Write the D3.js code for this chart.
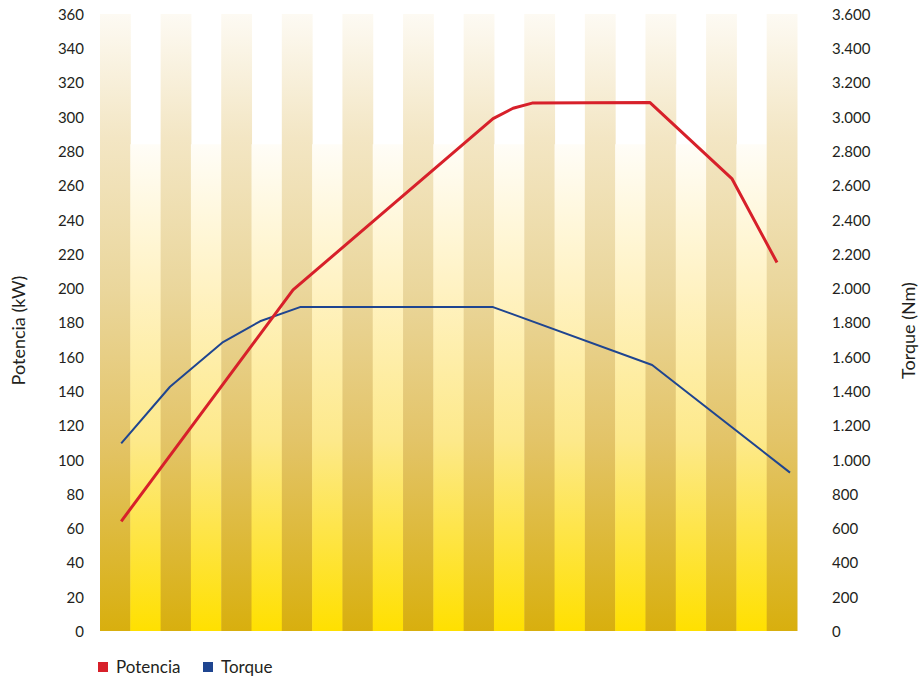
<!DOCTYPE html>
<html>
<head>
<meta charset="utf-8">
<script src="https://cdn.jsdelivr.net/npm/d3@7"></script>
<style>
  body { margin: 0; background: #fff; }
  text { font-family: "Lato", "Open Sans", sans-serif; fill: #231f20; }
</style>
</head>
<body>
<div id="chart"></div>
<script>
// rpm where the readings were taken
const potenciaRpm = [670, 1237, 1897, 1963, 2026, 2415, 2685, 2834];
const potenciaKw = [64, 199, 299, 305, 308, 308.3, 264, 215];
const torqueRpm = [670, 831, 1006, 1128, 1260, 1897, 2422, 2877];
const torqueNm = [1095, 1425, 1686, 1807, 1890, 1890, 1552, 924];
const leftTicks = d3.range(0, 361, 20);
const rightTicks = d3.range(0, 3601, 200);
const stripeCount = 23;
const lightStripeTop = 284; // kW level where the pale stripes stop
const legendItems = [
    {name: "Potencia", color: "#d7202a"},
    {name: "Torque", color: "#1f4590"}
];

const width = 922, height = 680;
const margin = {top: 14, right: 125, bottom: 49, left: 100};

const svg = d3.select("#chart").append("svg")
    .attr("width", width)
    .attr("height", height);

const x = d3.scaleLinear().domain([600, 2900]).range([margin.left, width - margin.right]);
const yKw = d3.scaleLinear().domain([0, 360]).range([height - margin.bottom, margin.top]);
const yNm = d3.scaleLinear().domain([0, 3600]).range([height - margin.bottom, margin.top]);
const band = d3.scaleBand().domain(d3.range(stripeCount)).range([margin.left, width - margin.right]);

const defs = svg.append("defs");
const darkGrad = defs.append("linearGradient")
    .attr("id", "darkGrad")
    .attr("gradientUnits", "userSpaceOnUse")
    .attr("x1", 0).attr("x2", 0)
    .attr("y1", yKw(360)).attr("y2", yKw(0));
[[0, "#fdfaf3"], [0.2, "#f3e6c4"], [0.45, "#ead69b"], [0.69, "#e3c468"], [1, "#d8af0e"]]
    .forEach(s => darkGrad.append("stop").attr("offset", s[0]).attr("stop-color", s[1]));

const lightGrad = defs.append("linearGradient")
    .attr("id", "lightGrad")
    .attr("gradientUnits", "userSpaceOnUse")
    .attr("x1", 0).attr("x2", 0)
    .attr("y1", yKw(lightStripeTop)).attr("y2", yKw(0));
[[0, "#fffdf7"], [0.3, "#fff2c2"], [0.61, "#fde98a"], [1, "#ffe000"]]
    .forEach(s => lightGrad.append("stop").attr("offset", s[0]).attr("stop-color", s[1]));

// background stripes
svg.append("g").selectAll("rect")
    .data(d3.range(stripeCount))
    .enter()
    .append("rect")
    .attr("x", d => band(d))
    .attr("width", band.bandwidth() + 0.5)
    .attr("y", d => d % 2 === 0 ? yKw(360) : yKw(lightStripeTop))
    .attr("height", d => d % 2 === 0 ? yKw(0) - yKw(360) : yKw(0) - yKw(lightStripeTop))
    .attr("fill", d => d % 2 === 0 ? "url(#darkGrad)" : "url(#lightGrad)");

// axes (labels only)
const fmtNm = d => d3.format(",")(d).replace(/,/g, ".");

svg.append("g")
    .attr("transform", "translate(" + (margin.left - 16) + ",0)")
    .call(d3.axisLeft(yKw).tickValues(leftTicks).tickSize(0).tickPadding(0))
    .call(g => g.select(".domain").remove())
    .selectAll("text")
    .attr("font-size", 15)
    .attr("dy", "0.36em")
    .style("font-family", "Lato, 'Open Sans', sans-serif")
    .attr("fill", "#231f20");

svg.append("g")
    .attr("transform", "translate(" + (width - margin.right + 35) + ",0)")
    .call(d3.axisRight(yNm).tickValues(rightTicks).tickFormat(fmtNm).tickSize(0).tickPadding(0))
    .call(g => g.select(".domain").remove())
    .selectAll("text")
    .attr("font-size", 15)
    .attr("dy", "0.36em")
    .style("font-family", "Lato, 'Open Sans', sans-serif")
    .attr("fill", "#231f20");

svg.append("text")
    .attr("transform", "translate(25," + (yKw(180) + 8) + ")rotate(-90)")
    .attr("text-anchor", "middle")
    .attr("font-size", 18)
    .text("Potencia (kW)");

svg.append("text")
    .attr("transform", "translate(915," + (yKw(180) + 8) + ")rotate(-90)")
    .attr("text-anchor", "middle")
    .attr("font-size", 18)
    .text("Torque (Nm)");

// lines
const potLine = d3.line()
    .x((d, i) => x(potenciaRpm[i]))
    .y(d => yKw(d));
const torLine = d3.line()
    .x((d, i) => x(torqueRpm[i]))
    .y(d => yNm(d));

svg.append("path")
    .datum(torqueNm)
    .attr("d", torLine)
    .attr("fill", "none")
    .attr("stroke", "#1f4590")
    .attr("stroke-width", 2)
    .attr("stroke-linejoin", "round");

svg.append("path")
    .datum(potenciaKw)
    .attr("d", potLine)
    .attr("fill", "none")
    .attr("stroke", "#d7202a")
    .attr("stroke-width", 3)
    .attr("stroke-linejoin", "round");

// legend
const legend = svg.append("g").attr("transform", "translate(98,662)");
const item = legend.selectAll("g")
    .data(legendItems)
    .enter()
    .append("g")
    .attr("transform", (d, i) => "translate(" + (i * 105) + ",0)");
item.append("rect")
    .attr("width", 10).attr("height", 10)
    .attr("fill", d => d.color);
item.append("text")
    .attr("x", 18).attr("y", 11)
    .attr("font-size", 17)
    .text(d => d.name);
</script>
</body>
</html>
